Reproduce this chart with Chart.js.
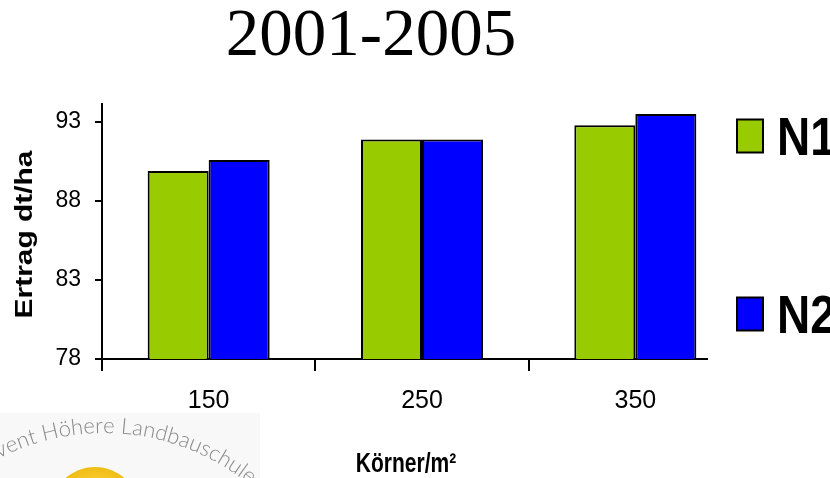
<!DOCTYPE html>
<html>
<head>
<meta charset="utf-8">
<script src="https://cdn.jsdelivr.net/npm/chart.js@4"></script>
<style>
  html, body { margin: 0; padding: 0; background: #fff; overflow: hidden; }
  canvas { display: block; }
</style>
</head>
<body>
<canvas id="chart" width="830" height="478"></canvas>
<script>
// Yield (dt/ha) by seed density, two nitrogen levels, 2001-2005
const categories = ['150', '250', '350'];
const seriesNames = ['N1', 'N2'];
const n1Values = [89.9, 91.9, 92.8];
const n2Values = [90.6, 91.9, 93.5];
const yTickValues = [78, 83, 88, 93];
const chartTitle = '2001-2005';
const yAxisTitle = 'Ertrag dt/ha';
const xAxisTitle = 'Körner/m²';
const logoText = 'vent Höhere Landbauschule';

const SANS = "'Liberation Sans', Arial, sans-serif";
const SERIF = "'Liberation Serif', 'Times New Roman', serif";

// Draws the legend panel, both axis titles and the school logo corner
const decorPlugin = {
  id: 'decor',
  afterDraw(chart) {
    const { ctx, chartArea } = chart;
    ctx.save();

    // legend panel background (overlaps the end of the category axis)
    const panelLeft = chartArea.right - 34;
    ctx.fillStyle = '#ffffff';
    ctx.fillRect(panelLeft, chartArea.top - 4, chart.width - panelLeft, chartArea.bottom - chartArea.top + 18);

    // legend entries
    const boxLeft = chartArea.right - 5;
    const baselines = [155, 333];
    chart.data.datasets.forEach((ds, i) => {
      const base = baselines[i];
      const centerY = base - 19;
      ctx.fillStyle = ds.backgroundColor;
      ctx.fillRect(boxLeft, centerY - 16.5, 26, 33);
      ctx.strokeStyle = '#000';
      ctx.lineWidth = 2;
      ctx.strokeRect(boxLeft, centerY - 16.5, 26, 33);
      ctx.save();
      ctx.translate(boxLeft + 40, base);
      ctx.scale(1, 1.15);
      ctx.fillStyle = '#000';
      ctx.font = 'bold 46px ' + SANS;
      ctx.textAlign = 'left';
      ctx.textBaseline = 'alphabetic';
      ctx.fillText(ds.label, 0, 0);
      ctx.restore();
    });

    // y axis title
    ctx.save();
    ctx.translate(32, (chartArea.top + chartArea.bottom) / 2 + 3);
    ctx.rotate(-Math.PI / 2);
    ctx.scale(1.3, 1);
    ctx.fillStyle = '#000';
    ctx.font = 'bold 23px ' + SANS;
    ctx.textAlign = 'center';
    ctx.textBaseline = 'alphabetic';
    ctx.fillText(yAxisTitle, 0, 0);
    ctx.restore();

    // x axis title
    ctx.save();
    ctx.translate(406, 472);
    ctx.scale(1, 1.31);
    ctx.fillStyle = '#000';
    ctx.font = 'bold 21px ' + SANS;
    ctx.textAlign = 'center';
    ctx.textBaseline = 'alphabetic';
    ctx.fillText(xAxisTitle, 0, 0);
    ctx.restore();

    // logo corner
    ctx.save();
    ctx.beginPath();
    ctx.rect(0, 413, 260, 65);
    ctx.clip();
    ctx.fillStyle = '#f8f8f8';
    ctx.fillRect(0, 413, 260, 65);
    // sun
    const g = ctx.createRadialGradient(95, 500, 5, 95, 512, 46);
    g.addColorStop(0, '#ffd84a');
    g.addColorStop(1, '#efbc12');
    ctx.fillStyle = g;
    ctx.beginPath();
    ctx.arc(95, 512, 45, 0, Math.PI * 2);
    ctx.fill();
    // curved lettering
    const cx = 104, cy = 663, r = 230;
    ctx.font = '300 22px Lato, ' + SANS;
    ctx.fillStyle = '#8a8a8a';
    ctx.textAlign = 'center';
    ctx.textBaseline = 'alphabetic';
    let angle = -0.475;
    for (const ch of logoText) {
      const w = ctx.measureText(ch).width;
      const a = angle + (w / 2) / r;
      ctx.save();
      ctx.translate(cx + r * Math.sin(a), cy - r * Math.cos(a));
      ctx.rotate(a);
      ctx.fillText(ch, 0, 0);
      ctx.restore();
      angle += w / r;
    }
    ctx.restore();

    ctx.restore();
  }
};

new Chart(document.getElementById('chart'), {
  type: 'bar',
  data: {
    labels: categories,
    datasets: [
      {
        label: seriesNames[0],
        data: n1Values,
        backgroundColor: '#99CC00',
        borderColor: '#000000',
        borderWidth: 2,
        categoryPercentage: 0.572,
        barPercentage: 1.0
      },
      {
        label: seriesNames[1],
        data: n2Values,
        backgroundColor: '#0000FF',
        borderColor: '#000000',
        borderWidth: 2,
        categoryPercentage: 0.572,
        barPercentage: 1.0
      }
    ]
  },
  options: {
    responsive: false,
    devicePixelRatio: 1,
    animation: false,
    layout: { padding: { left: 0, right: 88, top: 0, bottom: 59 } },
    plugins: {
      legend: { display: false },
      tooltip: { enabled: false },
      title: {
        display: true,
        text: chartTitle,
        color: '#000',
        font: { family: SERIF, size: 67, weight: 'normal', lineHeight: 1 },
        padding: { top: 4, bottom: 33 }
      }
    },
    scales: {
      x: {
        grid: { drawOnChartArea: false, drawTicks: true, tickLength: 12, color: '#000', lineWidth: 2, offset: true },
        border: { display: true, color: '#000', width: 2 },
        ticks: { color: '#000', font: { family: SANS, size: 25 }, padding: 15, maxRotation: 0 },
        afterFit(scale) { scale.height = 60; }
      },
      y: {
        min: 78,
        max: 94.14,
        afterBuildTicks(scale) { scale.ticks = yTickValues.map(v => ({ value: v })); },
        grid: { drawOnChartArea: false, drawTicks: true, tickLength: 7, color: '#000', lineWidth: 2 },
        border: { display: true, color: '#000', width: 2 },
        ticks: { color: '#000', font: { family: SANS, size: 23 }, padding: 14 },
        afterFit(scale) { scale.width = 102; }
      }
    }
  },
  plugins: [decorPlugin]
});
</script>
</body>
</html>
